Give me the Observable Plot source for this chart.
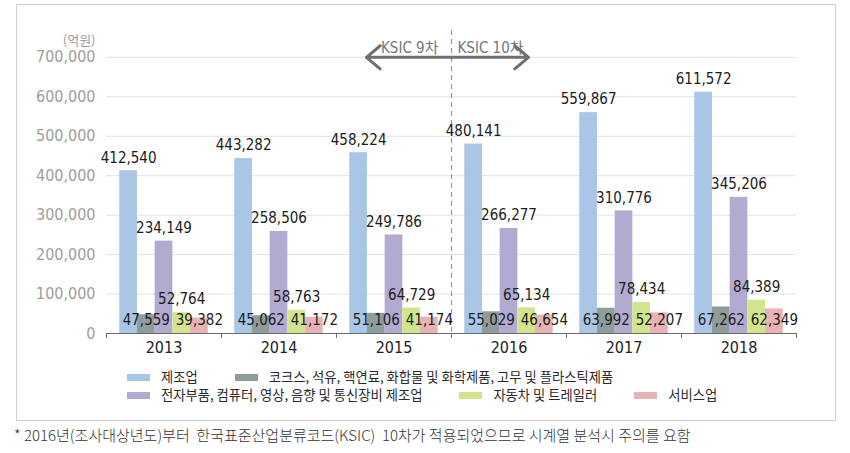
<!DOCTYPE html>
<html>
<head>
<meta charset="utf-8">
<script src="https://cdn.jsdelivr.net/npm/d3@7"></script>
<script src="https://cdn.jsdelivr.net/npm/@observablehq/plot@0.6"></script>
<style>
  body { margin: 0; background: #fff; width: 850px; height: 453px; position: relative; overflow: hidden;
         font-family: "Noto Sans CJK KR", sans-serif; }
  #box { position: absolute; left: 16px; top: 4px; width: 820px; height: 417px; border: 1px solid #cfcfcf; box-sizing: border-box; }
  #chart { position: absolute; left: 0; top: 0; }
  #legend { position: absolute; left: 127px; top: 368px; font-size: 13.3px; color: #2a2a2a; line-height: 18px; }
  .row { display: flex; gap: 37px; white-space: nowrap; }
  .item { display: flex; align-items: center; }
  .sw { width: 23px; height: 7px; margin-right: 11px; }
  #caption { position: absolute; left: 14px; top: 425px; font-size: 15px; color: #333; font-weight: 300; white-space: pre; line-height: 19px; }
</style>
</head>
<body>
<div id="box"></div>
<div id="chart"></div>
<div id="legend"></div>
<div id="caption"></div>
<script>
const years = [2013, 2014, 2015, 2016, 2017, 2018];
const seriesNames = [
  "제조업",
  "코크스, 석유, 핵연료, 화합물 및 화학제품, 고무 및 플라스틱제품",
  "전자부품, 컴퓨터, 영상, 음향 및 통신장비 제조업",
  "자동차 및 트레일러",
  "서비스업"
];
const manufacturing = [412540, 443282, 458224, 480141, 559867, 611572];
const chemicals     = [47559, 45062, 51106, 55029, 63992, 67262];
const electronics   = [234149, 258506, 249786, 266277, 310776, 345206];
const automobiles   = [52764, 58763, 64729, 65134, 78434, 84389];
const services      = [39382, 41172, 41174, 46654, 52207, 62349];
const seriesValues = [manufacturing, chemicals, electronics, automobiles, services];
const colors = ["#a9c6e6", "#8f9c9c", "#b2aad0", "#d2e58e", "#e8b3b4"];
const yTicks = [0, 100000, 200000, 300000, 400000, 500000, 600000, 700000];
const yUnit = "(억원)";
const ksicChangeYear = 2016;
const ksicLabels = ["KSIC 9차", "KSIC 10차"];
const ksicArrowEnds = [2014.76, 2016.17];
const captionText = "* 2016년(조사대상년도)부터  한국표준산업분류코드(KSIC)  10차가 적용되었으므로 시계열 분석시 주의를 요함";

// table built from arrays
const rows = [];
seriesNames.forEach((s, k) => years.forEach((y, i) => rows.push({year: y, series: s, k, value: seriesValues[k][i]})));
const labelsAbove = rows.filter(d => d.k === 0 || d.k === 2 || d.k === 3);
const labelsBase = rows.filter(d => d.k === 1 || d.k === 4);
const arrows = ksicArrowEnds.map((to, i) => ({label: ksicLabels[i], to}));
const boundaries = years.map(y => y - 0.5).concat([years[years.length - 1] + 0.5]);

const band = d3.scaleBand().domain(seriesNames).range([-0.5, 0.5]).paddingInner(0).paddingOuter(0.75);
const bx1 = d => d.year + band(d.series);
const bx2 = d => d.year + band(d.series) + band.bandwidth();
const bxc = d => d.year + band(d.series) + band.bandwidth() / 2;
const fmt = d3.format(",");
const numFont = '"DejaVu Sans Condensed", "DejaVu Sans", "Noto Sans CJK KR", sans-serif';

const chart = Plot.plot({
  width: 850, height: 365,
  marginLeft: 106, marginRight: 54, marginTop: 30, marginBottom: 32,
  x: {type: "linear", domain: [years[0] - 0.5, years[years.length - 1] + 0.5], axis: null},
  y: {domain: [0, 768000], axis: null},
  color: {domain: seriesNames, range: colors},
  style: {fontFamily: numFont, fontStretch: "condensed", background: "transparent", overflow: "visible"},
  marks: [
    Plot.gridY(yTicks, {stroke: "#e2e2e2", strokeOpacity: 1}),
    Plot.axisY(yTicks, {tickSize: 0, tickPadding: 11, tickFormat: fmt, fontSize: 16, fill: "#9d9d9d", label: null}),
    Plot.text([yUnit], {frameAnchor: "top-left", textAnchor: "end", dx: -11, dy: 5, fontSize: 13, fill: "#9d9d9d", fontFamily: '"Noto Sans CJK KR", sans-serif'}),
    Plot.rectY(rows, {x1: bx1, x2: bx2, y1: 0, y2: "value", fill: "series"}),
    Plot.ruleY([0], {stroke: "#6a6a6a", strokeWidth: 1.2}),
    Plot.axisX(boundaries, {tickSize: 5, tickFormat: () => "", stroke: "#6a6a6a", label: null}),
    Plot.axisX(years, {tickSize: 0, tickPadding: 8, tickFormat: d => String(d), fontSize: 16, fill: "#222", label: null}),
    Plot.ruleX([ksicChangeYear - 0.5], {stroke: "#9a9a9a", strokeWidth: 1.2, strokeDasharray: "5,4"}),
    Plot.text([arrows[0]], {x: () => ksicChangeYear - 0.5, frameAnchor: "top", text: "label", textAnchor: "end", dx: -13, dy: 12, fontSize: 15, fill: "#777"}),
    Plot.text([arrows[1]], {x: () => ksicChangeYear - 0.5, frameAnchor: "top", text: "label", textAnchor: "start", dx: 6, dy: 12, fontSize: 15, fill: "#777"}),
    Plot.arrow(arrows, {x1: () => ksicChangeYear - 0.5, y1: () => yTicks[yTicks.length - 1], x2: "to", y2: () => yTicks[yTicks.length - 1],
      stroke: "#6f6f6f", strokeWidth: 3, headLength: 9, headAngle: 80}),
    Plot.text(labelsAbove, {x: bxc, y: "value", text: d => fmt(d.value), dy: -13, fontSize: 15, fill: "#1c1c1c"}),
    Plot.text(labelsBase, {x: bxc, y: () => 0, text: d => fmt(d.value), dy: -13, fontSize: 15, fill: "#1c1c1c"})
  ]
});
document.getElementById("chart").appendChild(chart);

// legend
const legend = document.getElementById("legend");
const rowsDef = [[0, 1], [2, 3, 4]];
rowsDef.forEach(r => {
  const row = document.createElement("div");
  row.className = "row";
  r.forEach(k => {
    const it = document.createElement("div");
    it.className = "item";
    const sw = document.createElement("span");
    sw.className = "sw";
    sw.style.background = colors[k];
    const t = document.createElement("span");
    t.textContent = seriesNames[k];
    it.appendChild(sw); it.appendChild(t);
    row.appendChild(it);
  });
  legend.appendChild(row);
});
document.getElementById("caption").textContent = captionText;
</script>
</body>
</html>
